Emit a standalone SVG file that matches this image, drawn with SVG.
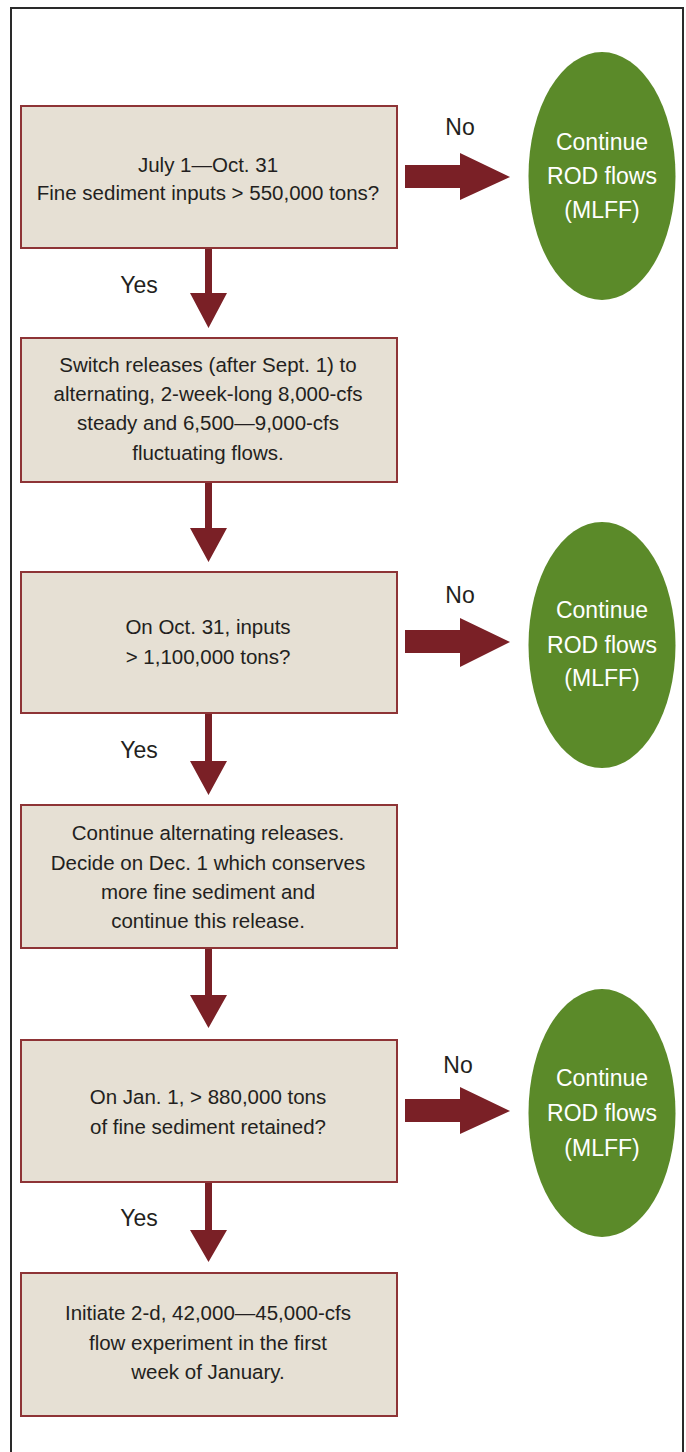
<svg xmlns="http://www.w3.org/2000/svg" width="686" height="1452" viewBox="0 0 686 1452">
<style>
.bg{fill:#ffffff}
.frame{fill:none;stroke:#2a2a2a;stroke-width:2}
.box rect{fill:#e6e0d4;stroke:#8e3436;stroke-width:2}
.box text{font-family:"Liberation Sans",Arial,sans-serif;font-size:20.5px;fill:#231f20;text-anchor:middle}
.oval ellipse{fill:#5b8a29}
.oval text{font-family:"Liberation Sans",Arial,sans-serif;font-size:23px;fill:#ffffff;text-anchor:middle}
.arrow{fill:#7a2026}
.lbl{font-family:"Liberation Sans",Arial,sans-serif;font-size:23px;fill:#231f20;text-anchor:middle}
</style>
<rect class="bg" x="0" y="0" width="686" height="1452"/>
<rect class="frame" x="11" y="8" width="672" height="1460"/>

<g id="connectors">
  <polygon class="arrow" points="205,248 212,248 212,293 227,293 208.5,328 190,293 205,293"/>
  <polygon class="arrow" points="205,482 212,482 212,528 227,528 208.5,562 190,528 205,528"/>
  <polygon class="arrow" points="205,713 212,713 212,761 227,761 208.5,795 190,761 205,761"/>
  <polygon class="arrow" points="205,948 212,948 212,995 227,995 208.5,1028 190,995 205,995"/>
  <polygon class="arrow" points="205,1182 212,1182 212,1230 227,1230 208.5,1262 190,1230 205,1230"/>
  <polygon class="arrow" points="405,165 460,165 460,153 510,177 460,200 460,188 405,188"/>
  <polygon class="arrow" points="405,630 460,630 460,618 510,642 460,667 460,653 405,653"/>
  <polygon class="arrow" points="405,1099 460,1099 460,1087 510,1111 460,1134 460,1122 405,1122"/>
  <text class="lbl" x="460" y="135">No</text>
  <text class="lbl" x="460" y="603">No</text>
  <text class="lbl" x="458" y="1073">No</text>
  <text class="lbl" x="139" y="293">Yes</text>
  <text class="lbl" x="139" y="758">Yes</text>
  <text class="lbl" x="139" y="1226">Yes</text>
</g>

<g id="box1" class="box">
  <rect x="21" y="106" width="376" height="142"/>
  <text x="208" y="172">July 1—Oct. 31</text>
  <text x="208" y="200">Fine sediment inputs &gt; 550,000 tons?</text>
</g>
<g id="box2" class="box">
  <rect x="21" y="338" width="376" height="144"/>
  <text x="208" y="372">Switch releases (after Sept. 1) to</text>
  <text x="208" y="401">alternating, 2-week-long 8,000-cfs</text>
  <text x="208" y="430">steady and 6,500—9,000-cfs</text>
  <text x="208" y="460">fluctuating flows.</text>
</g>
<g id="box3" class="box">
  <rect x="21" y="572" width="376" height="141"/>
  <text x="208" y="634">On Oct. 31, inputs</text>
  <text x="208" y="664">&gt; 1,100,000 tons?</text>
</g>
<g id="box4" class="box">
  <rect x="21" y="805" width="376" height="143"/>
  <text x="208" y="840">Continue alternating releases.</text>
  <text x="208" y="870">Decide on Dec. 1 which conserves</text>
  <text x="208" y="899">more fine sediment and</text>
  <text x="208" y="928">continue this release.</text>
</g>
<g id="box5" class="box">
  <rect x="21" y="1040" width="376" height="142"/>
  <text x="208" y="1104">On Jan. 1, &gt; 880,000 tons</text>
  <text x="208" y="1134">of fine sediment retained?</text>
</g>
<g id="box6" class="box">
  <rect x="21" y="1273" width="376" height="143"/>
  <text x="208" y="1320">Initiate 2-d, 42,000—45,000-cfs</text>
  <text x="208" y="1350">flow experiment in the first</text>
  <text x="208" y="1379">week of January.</text>
</g>

<g id="oval1" class="oval">
  <ellipse cx="602" cy="176" rx="73.5" ry="124"/>
  <text x="602" y="150">Continue</text>
  <text x="602" y="184">ROD flows</text>
  <text x="602" y="218">(MLFF)</text>
</g>
<g id="oval2" class="oval">
  <ellipse cx="602" cy="645" rx="73.5" ry="123"/>
  <text x="602" y="618">Continue</text>
  <text x="602" y="653">ROD flows</text>
  <text x="602" y="686">(MLFF)</text>
</g>
<g id="oval3" class="oval">
  <ellipse cx="602" cy="1113" rx="73.5" ry="124"/>
  <text x="602" y="1086">Continue</text>
  <text x="602" y="1121">ROD flows</text>
  <text x="602" y="1156">(MLFF)</text>
</g>
</svg>
